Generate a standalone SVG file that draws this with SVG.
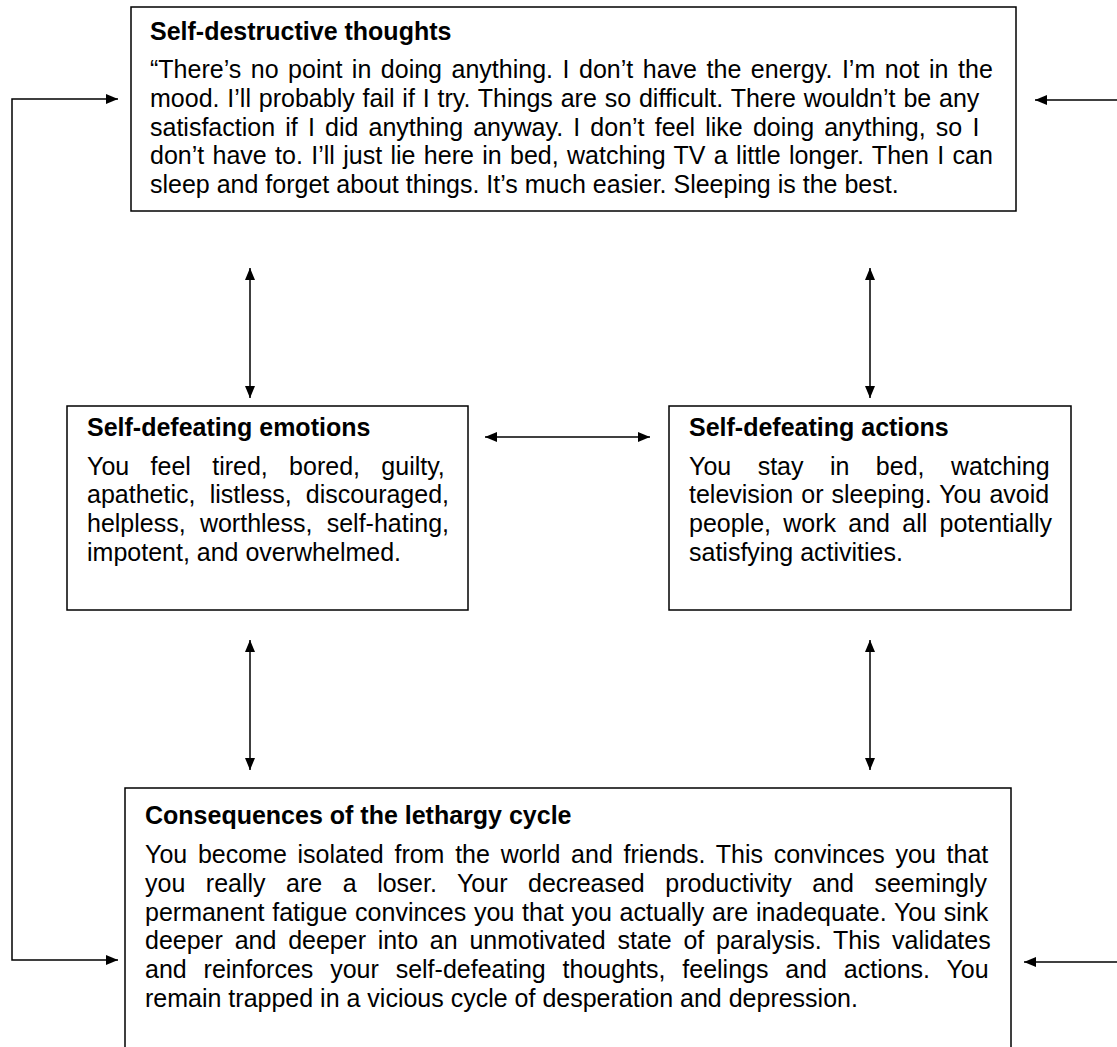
<svg xmlns="http://www.w3.org/2000/svg" width="1117" height="1047" viewBox="0 0 1117 1047">
<style>
.box{fill:#fff;stroke:#000;stroke-width:1.5}
.t{font-family:"Liberation Sans",Arial,sans-serif;font-size:25px;fill:#000}
.h{font-weight:bold}
.c{fill:none;stroke:#000;stroke-width:1.5}
</style>
<defs>
<marker id="ah" viewBox="0 0 12 10" refX="12" refY="5" markerWidth="12" markerHeight="10" markerUnits="userSpaceOnUse" orient="auto-start-reverse">
<path d="M0,0 L12,5 L0,10 Z" fill="#000"/>
</marker>
</defs>
<rect width="1117" height="1047" fill="#fff"/>
<g id="connectors">
<path class="c" d="M118,99 H12 V960 H118" marker-start="url(#ah)" marker-end="url(#ah)"/>
<path class="c" d="M1117,100 H1035" marker-end="url(#ah)"/>
<path class="c" d="M1117,962 H1024" marker-end="url(#ah)"/>
<path class="c" d="M250,398 V268" marker-start="url(#ah)" marker-end="url(#ah)"/>
<path class="c" d="M870,398 V268" marker-start="url(#ah)" marker-end="url(#ah)"/>
<path class="c" d="M250,770 V640" marker-start="url(#ah)" marker-end="url(#ah)"/>
<path class="c" d="M870,770 V640" marker-start="url(#ah)" marker-end="url(#ah)"/>
<path class="c" d="M485,437 H650" marker-start="url(#ah)" marker-end="url(#ah)"/>
</g>
<g id="thoughts">
<rect class="box" x="131" y="7" width="885" height="204"/>
<text class="t h" x="150" y="40">Self-destructive thoughts</text>
<text class="t" x="150" y="78" word-spacing="2.59">“There’s no point in doing anything. I don’t have the energy. I’m not in the</text>
<text class="t" x="150" y="106.75" word-spacing="0.91">mood. I’ll probably fail if I try. Things are so difficult. There wouldn’t be any</text>
<text class="t" x="150" y="135.5" word-spacing="3.22">satisfaction if I did anything anyway. I don’t feel like doing anything, so I</text>
<text class="t" x="150" y="164.25" word-spacing="1.4">don’t have to. I’ll just lie here in bed, watching TV a little longer. Then I can</text>
<text class="t" x="150" y="193">sleep and forget about things. It’s much easier. Sleeping is the best.</text>
</g>
<g id="emotions">
<rect class="box" x="67" y="406" width="401" height="204"/>
<text class="t h" x="87" y="436">Self-defeating emotions</text>
<text class="t" x="87" y="474.5" word-spacing="14.4">You feel tired, bored, guilty,</text>
<text class="t" x="87" y="503.25" word-spacing="7.3">apathetic, listless, discouraged,</text>
<text class="t" x="87" y="532" word-spacing="7.3">helpless, worthless, self-hating,</text>
<text class="t" x="87" y="560.75">impotent, and overwhelmed.</text>
</g>
<g id="actions">
<rect class="box" x="669" y="406" width="402" height="204"/>
<text class="t h" x="689" y="436">Self-defeating actions</text>
<text class="t" x="689" y="474.5" word-spacing="19.5">You stay in bed, watching</text>
<text class="t" x="689" y="503.25" word-spacing="1.1">television or sleeping. You avoid</text>
<text class="t" x="689" y="532" word-spacing="5.3">people, work and all potentially</text>
<text class="t" x="689" y="560.75">satisfying activities.</text>
</g>
<g id="consequences">
<rect class="box" x="125" y="788" width="886" height="280"/>
<text class="t h" x="145" y="824">Consequences of the lethargy cycle</text>
<text class="t" x="145" y="863" word-spacing="3.77">You become isolated from the world and friends. This convinces you that</text>
<text class="t" x="145" y="891.75" word-spacing="13.57">you really are a loser. Your decreased productivity and seemingly</text>
<text class="t" x="145" y="920.5" word-spacing="0.8">permanent fatigue convinces you that you actually are inadequate. You sink</text>
<text class="t" x="145" y="949.25" word-spacing="4.84">deeper and deeper into an unmotivated state of paralysis. This validates</text>
<text class="t" x="145" y="978" word-spacing="9.9">and reinforces your self-defeating thoughts, feelings and actions. You</text>
<text class="t" x="145" y="1006.75">remain trapped in a vicious cycle of desperation and depression.</text>
</g>
</svg>
